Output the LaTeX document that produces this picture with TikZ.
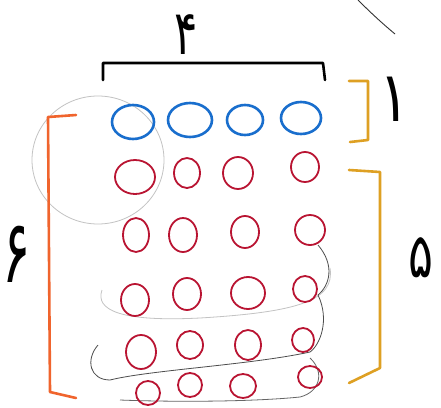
\documentclass[tikz,border=0pt]{standalone}
\usepackage{fontspec}
\usepackage{graphicx}
\newfontfamily\arabicfont[Script=Arabic]{DejaVu Sans}
\TeXXeTstate=1
\usetikzlibrary{shapes.geometric}
\definecolor{bluec}{RGB}{25,110,205}
\definecolor{redc}{RGB}{185,20,50}
\definecolor{orangec}{RGB}{240,100,45}
\definecolor{goldc}{RGB}{222,160,35}
\definecolor{pencil}{RGB}{195,195,195}
\begin{document}
\begin{tikzpicture}[x=1pt,y=-1pt,
  dot/.style={ellipse,draw,line width=2.6pt,inner sep=0pt},
  bdot/.style={dot,draw=bluec},
  rdot/.style={dot,draw=redc,line width=1.8pt},
  brk/.style={line width=2.6pt,line cap=round,line join=round},
  digit/.style={inner sep=0pt},
  sketch/.style={pencil,line width=0.8pt}]
\useasboundingbox[fill=white] (0,0) rectangle (441,407);
% faint pencil sketches
\draw[sketch] (98,160) ellipse [x radius=66, y radius=64];
\draw[sketch] (330,268) .. controls (335,300) and (300,312) .. (200,318)
  .. controls (120,322) and (95,310) .. (102,290);
\draw[black!70,line width=0.8pt] (318,245) .. controls (335,265) and (330,285) .. (318,295)
  .. controls (330,320) and (320,345) .. (310,352)
  .. controls (250,365) and (150,370) .. (110,380)
  .. controls (90,380) and (85,360) .. (98,345);
\draw[black!60,line width=0.8pt] (310,358) .. controls (325,372) and (320,392) .. (300,397)
  .. controls (250,402) and (170,402) .. (120,400);
\draw[black!80,line width=0.9pt] (358,0) .. controls (372,14) and (383,24) .. (395,34);
% top bracket and label
\coordinate (t1) at (103,80); \coordinate (t2) at (103,63);
\coordinate (t3) at (323,63); \coordinate (t4) at (325,80);
\draw[brk,black] (t1) -- (t2) -- (t3) -- (t4);
\node[digit,anchor=base] (n4) at (186,54) {\scalebox{0.7}[1]{\arabicfont\fontsize{62}{62}\selectfont\beginR ۴\endR}};
% blue row
\node[bdot,minimum width=42pt,minimum height=34pt] (b1) at (133,122) {};
\node[bdot,minimum width=44pt,minimum height=34pt] (b2) at (190,120) {};
\node[bdot,minimum width=36pt,minimum height=30pt] (b3) at (245,120) {};
\node[bdot,minimum width=40pt,minimum height=32pt] (b4) at (301,118) {};
% red rows
\node[rdot,minimum width=40pt,minimum height=34pt] (r11) at (135,177) {};
\node[rdot,minimum width=26pt,minimum height=30pt] (r12) at (187,173) {};
\node[rdot,minimum width=30pt,minimum height=32pt] (r13) at (238,173) {};
\node[rdot,minimum width=28pt,minimum height=30pt] (r14) at (305,167) {};
\node[rdot,minimum width=26pt,minimum height=34pt] (r21) at (136,235) {};
\node[rdot,minimum width=28pt,minimum height=34pt] (r22) at (183,235) {};
\node[rdot,minimum width=28pt,minimum height=32pt] (r23) at (245,232) {};
\node[rdot,minimum width=30pt,minimum height=30pt] (r24) at (310,230) {};
\node[rdot,minimum width=28pt,minimum height=32pt] (r31) at (135,300) {};
\node[rdot,minimum width=28pt,minimum height=32pt] (r32) at (187,294) {};
\node[rdot,minimum width=34pt,minimum height=32pt] (r33) at (248,293) {};
\node[rdot,minimum width=24pt,minimum height=26pt] (r34) at (305,289) {};
\node[rdot,minimum width=30pt,minimum height=34pt] (r41) at (141,352) {};
\node[rdot,minimum width=26pt,minimum height=28pt] (r42) at (190,345) {};
\node[rdot,minimum width=26pt,minimum height=30pt] (r43) at (248,345) {};
\node[rdot,minimum width=22pt,minimum height=24pt] (r44) at (303,340) {};
\node[rdot,minimum width=24pt,minimum height=24pt] (r51) at (148,393) {};
\node[rdot,minimum width=24pt,minimum height=24pt] (r52) at (190,385) {};
\node[rdot,minimum width=26pt,minimum height=24pt] (r53) at (243,386) {};
\node[rdot,minimum width=24pt,minimum height=22pt] (r54) at (310,377) {};
% right bracket for blue row
\coordinate (a1) at (349,81); \coordinate (a2) at (368,81);
\coordinate (a3) at (368,140); \coordinate (a4) at (350,142);
\draw[brk,goldc] (a1) -- (a2) -- (a3) -- (a4);
\node[digit] (n1) at (395,99) {\scalebox{0.8}[1]{\arabicfont\fontsize{70}{70}\selectfont\beginR ۱\endR}};
% right bracket for red rows
\coordinate (c1) at (349,170); \coordinate (c2) at (380,172);
\coordinate (c3) at (380,368); \coordinate (c4) at (349,383);
\draw[brk,goldc] (c1) -- (c2) -- (c3) -- (c4);
\node[digit] (n5) at (421,258) {\scalebox{0.75}[1]{\arabicfont\fontsize{62}{62}\selectfont\beginR ۵\endR}};
% left bracket
\coordinate (l1) at (76,115); \coordinate (l2) at (48,117);
\coordinate (l3) at (50,392); \coordinate (l4) at (76,398);
\draw[brk,orangec] (l1) -- (l2) -- (l3) -- (l4);
\node[digit] (n6) at (17,254) {\scalebox{0.6}[1]{\arabicfont\fontsize{88}{88}\selectfont\beginR ۶\endR}};
\end{tikzpicture}
\end{document}
